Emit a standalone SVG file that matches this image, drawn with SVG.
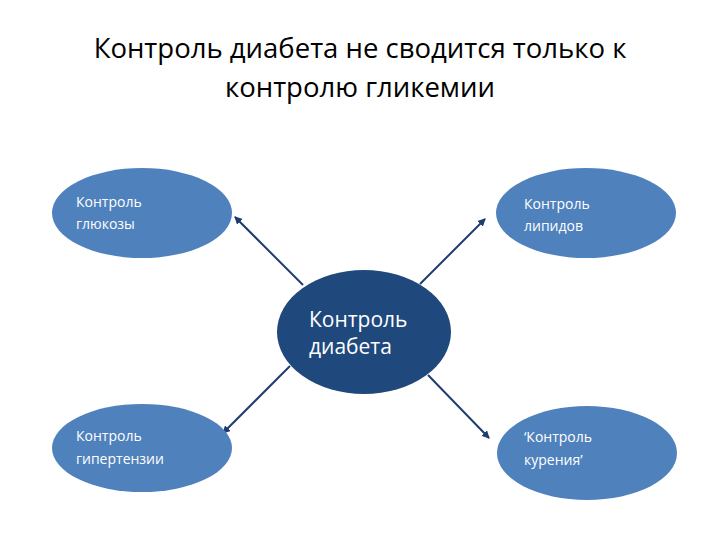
<svg xmlns="http://www.w3.org/2000/svg" width="720" height="540" viewBox="0 0 720 540">
<style>
.t{font-family:"Open Sans","DejaVu Sans",sans-serif;fill:#fff}
.s{font-size:14px}
.o{fill:#4F81BD}
.ln{stroke:#1F3C6E;stroke-width:2;fill:none;marker-end:url(#a)}
</style>
<defs><marker id="a" markerWidth="8" markerHeight="8" refX="7" refY="4" orient="auto" markerUnits="userSpaceOnUse"><path d="M0,0L8,4L0,8Z" fill="#1F3C6E"/></marker></defs>
<rect width="720" height="540" fill="#fff"/>
<text x="360" y="58" text-anchor="middle" font-family="'Open Sans','DejaVu Sans',sans-serif" font-size="27.5" fill="#000">Контроль диабета не сводится только к</text>
<text x="360" y="97" text-anchor="middle" font-family="'Open Sans','DejaVu Sans',sans-serif" font-size="27.5" fill="#000">контролю гликемии</text>
<g id="connectors">
<line class="ln" x1="303" y1="285" x2="235" y2="217"/>
<line class="ln" x1="420" y1="284" x2="485" y2="219"/>
<line class="ln" x1="290" y1="366" x2="223" y2="433"/>
<line class="ln" x1="428" y1="375" x2="489" y2="438"/>
</g>
<g id="n1"><ellipse class="o" cx="142" cy="213" rx="90" ry="45"/><text class="t s" x="76" y="207">Контроль</text><text class="t s" x="76" y="229">глюкозы</text></g>
<g id="n2"><ellipse class="o" cx="586" cy="213" rx="90" ry="45"/><text class="t s" x="524" y="209">Контроль</text><text class="t s" x="524" y="231">липидов</text></g>
<g id="n3"><ellipse class="o" cx="142" cy="448" rx="90" ry="44"/><text class="t s" x="76" y="441">Контроль</text><text class="t s" x="76" y="464">гипертензии</text></g>
<g id="n4"><ellipse class="o" cx="587" cy="453" rx="90" ry="47"/><text class="t s" x="524" y="442">‘Контроль</text><text class="t s" x="524" y="465">курения’</text></g>
<g id="c"><ellipse cx="364" cy="332" rx="87" ry="62" fill="#1F497D"/><text class="t" font-size="21" x="309" y="327">Контроль</text><text class="t" font-size="21" x="309" y="354">диабета</text></g>
</svg>
